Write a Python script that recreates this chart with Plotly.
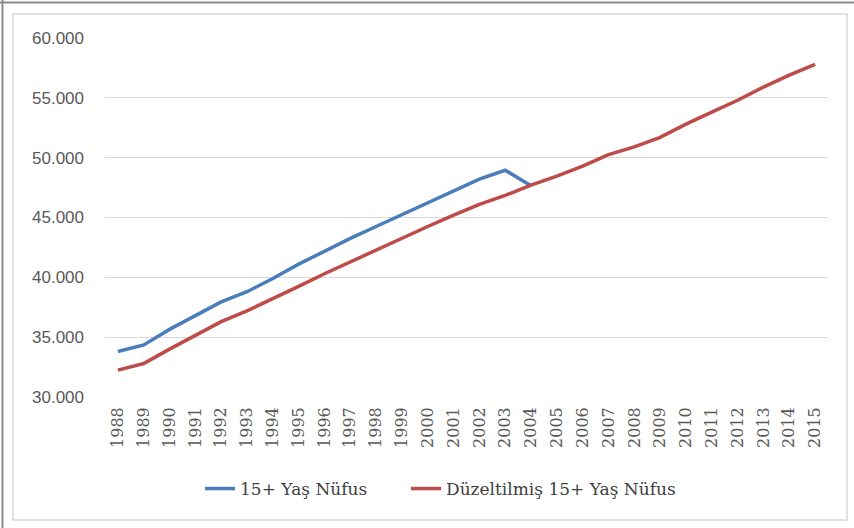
import plotly.graph_objects as go

years = [str(y) for y in range(1988, 2016)]
nufus_15 = [33800, 34350, 35650, 36800, 37950, 38800, 39900, 41100, 42200, 43250,
            44250, 45250, 46250, 47200, 48200, 48950, 47650]
duzeltilmis_15 = [32250, 32800, 34000, 35150, 36300, 37200, 38200, 39250, 40300, 41300,
                  42300, 43300, 44250, 45200, 46100, 46850, 47700, 48450, 49300, 50250,
                  50900, 51700, 52800, 53800, 54800, 55900, 56900, 57800]
series_names = ["15+ Yaş Nüfus", "Düzeltilmiş 15+ Yaş Nüfus"]
y_ticks = [30000, 35000, 40000, 45000, 50000, 55000, 60000]

W, H = 854, 528
L, R, T, B = 105, 26, 38, 131
PW, PH = W - L - R, H - T - B


def px(x):
    return (x - L) / PW


def py(y):
    return (H - B - y) / PH


fig = go.Figure()
fig.add_trace(go.Scatter(x=years[:len(nufus_15)], y=nufus_15, mode="lines",
                         name=series_names[0], legend="legend",
                         line=dict(color="#4A7EBB", width=3.5)))
fig.add_trace(go.Scatter(x=years, y=duzeltilmis_15, mode="lines",
                         name=series_names[1], legend="legend2",
                         line=dict(color="#BE4B48", width=3.5)))

leg_font = dict(size=17, color="#404040", family="DejaVu Serif, serif")
fig.update_layout(
    width=W, height=H,
    margin=dict(l=L, r=R, t=T, b=B),
    paper_bgcolor="white", plot_bgcolor="white",
    separators=",.",
    font=dict(family="DejaVu Serif, serif", color="#595959"),
    showlegend=True,
    legend=dict(orientation="h", xref="container", yref="container",
                x=200 / W, xanchor="left", y=1 - 489 / H, yanchor="middle",
                font=leg_font),
    legend2=dict(orientation="h", xref="container", yref="container",
                 x=406 / W, xanchor="left", y=1 - 489 / H, yanchor="middle",
                 font=leg_font),
    xaxis=dict(type="category", range=[-0.5, len(years) - 0.5], tickangle=-90,
               tickfont=dict(size=16, color="#595959", family="DejaVu Serif, serif"),
               showgrid=False, showline=False, ticks="", ticklabelstandoff=6),
    yaxis=dict(range=[30000, 60000], tickvals=y_ticks, tickformat=",d",
               showgrid=True, gridcolor="#D9D9D9", gridwidth=1, zeroline=False,
               tickfont=dict(size=17, color="#595959", family="Liberation Sans, sans-serif"),
               ticks="", ticklabelstandoff=20),
    shapes=[
        dict(type="rect", xref="paper", yref="paper",
             x0=px(13), x1=px(847), y0=py(520), y1=py(14),
             line=dict(color="#D9D9D9", width=1.5)),
        dict(type="line", xref="paper", yref="paper",
             x0=px(0), x1=px(W), y0=py(2.5), y1=py(2.5),
             line=dict(color="#8C8C8C", width=2)),
        dict(type="line", xref="paper", yref="paper",
             x0=px(2.5), x1=px(2.5), y0=py(0), y1=py(H),
             line=dict(color="#8C8C8C", width=2)),
    ],
)

fig.write_html("out.html", config={"displayModeBar": False},
               post_script="document.body.style.margin='0';")
